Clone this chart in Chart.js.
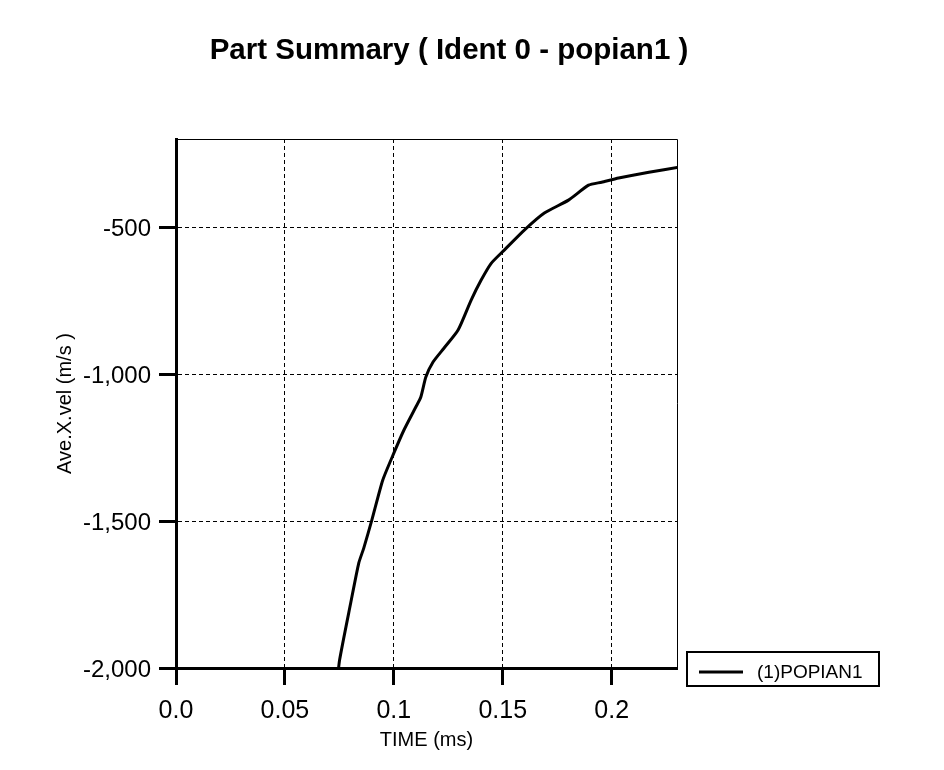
<!DOCTYPE html>
<html>
<head>
<meta charset="utf-8">
<script src="https://cdn.jsdelivr.net/npm/chart.js@4.4.1/dist/chart.umd.min.js"></script>
<style>
  body { margin: 0; background: #fff; }
  #wrap { width: 944px; height: 770px; }
</style>
</head>
<body>
<div id="wrap"><canvas id="grafico" width="944" height="770"></canvas></div>
<script>
// dados
const tempo = [0.0738, 0.0751, 0.0802, 0.0839, 0.0862, 0.0899, 0.0949, 0.1000, 0.1046, 0.1101,
  0.1124, 0.1147, 0.1180, 0.1230, 0.1295, 0.1355, 0.1401, 0.1447, 0.1507, 0.1599,
  0.1691, 0.1802, 0.1894, 0.1954, 0.2032, 0.2171, 0.2309];
const velX = [-2060, -1973, -1779, -1643, -1592, -1497, -1361, -1269, -1191, -1112,
  -1078, -1010, -959, -912, -850, -748, -680, -623, -578, -510,
  -452, -408, -357, -347, -333, -313, -296];
const xTicks = [0, 0.05, 0.1, 0.15, 0.2];
const xTickLabels = ["0.0", "0.05", "0.1", "0.15", "0.2"];
const yTicks = [-2000, -1500, -1000, -500];
const yTickLabels = ["-2,000", "-1,500", "-1,000", "-500"];
const titulo = "Part Summary ( Ident 0 - popian1 )";
const nomeSerie = "(1)POPIAN1";

const fonte = "'Liberation Sans', Arial, sans-serif";

// título, moldura superior/direita e legenda
const extras = {
  id: "extras",
  afterDraw(chart) {
    const c = chart.ctx;
    const a = chart.chartArea;
    c.save();
    c.strokeStyle = "#000";
    c.lineWidth = 1;
    c.beginPath();
    c.moveTo(a.left, a.top + 0.5);
    c.lineTo(a.right + 0.5, a.top + 0.5);
    c.lineTo(a.right + 0.5, a.bottom);
    c.stroke();

    c.fillStyle = "#000";
    c.font = "bold 29.5px " + fonte;
    c.textAlign = "center";
    c.textBaseline = "alphabetic";
    c.fillText(titulo, 449, 59);

    // legenda
    c.lineWidth = 2;
    c.strokeRect(687, 652, 192, 34);
    c.lineWidth = 3;
    c.beginPath();
    c.moveTo(699, 672);
    c.lineTo(743, 672);
    c.stroke();
    c.font = "19px " + fonte;
    c.textAlign = "left";
    c.textBaseline = "middle";
    c.fillText(nomeSerie, 757, 673);
    c.restore();
  },
};

new Chart(document.getElementById("grafico"), {
  type: "line",
  data: {
    datasets: [
      {
        label: nomeSerie,
        data: tempo.map((t, i) => ({ x: t, y: velX[i] })),
        borderColor: "#000",
        borderWidth: 3,
        pointRadius: 0,
        tension: 0.2,
        fill: false,
      },
    ],
  },
  options: {
    responsive: false,
    animation: false,
    layout: { padding: { top: 139, right: 267, left: 0, bottom: 0 } },
    plugins: { legend: { display: false }, title: { display: false }, tooltip: { enabled: false } },
    scales: {
      x: {
        type: "linear",
        min: 0,
        max: 0.23,
        afterBuildTicks: (s) => { s.ticks = xTicks.map((v) => ({ value: v })); },
        afterFit: (s) => { s.height = 102; },
        ticks: {
          color: "#000",
          font: { family: fonte, size: 25 },
          padding: 11,
          maxRotation: 0,
          callback: (v, i) => xTickLabels[i],
        },
        grid: { color: "#000", lineWidth: 1, tickLength: 17, tickWidth: 3, tickColor: "#000" },
        border: { color: "#000", width: 3, dash: [4, 3] },
        title: { display: true, text: "TIME (ms)", color: "#000", font: { family: fonte, size: 20 }, padding: { top: 0, bottom: 18 } },
      },
      y: {
        min: -2000,
        max: -200,
        afterBuildTicks: (s) => { s.ticks = yTicks.map((v) => ({ value: v })); },
        afterFit: (s) => { s.width = 176; },
        ticks: {
          color: "#000",
          font: { family: fonte, size: 24 },
          padding: 8,
          labelOffset: 2,
          callback: (v, i) => yTickLabels[i],
        },
        grid: { color: "#000", lineWidth: 1, tickLength: 17, tickWidth: 3, tickColor: "#000" },
        border: { color: "#000", width: 3, dash: [4, 3] },
        title: { display: true, text: "Ave.X.vel (m/s )", color: "#000", font: { family: fonte, size: 20 }, padding: { top: 53, bottom: 0 } },
      },
    },
  },
  plugins: [extras],
});
</script>
</body>
</html>
